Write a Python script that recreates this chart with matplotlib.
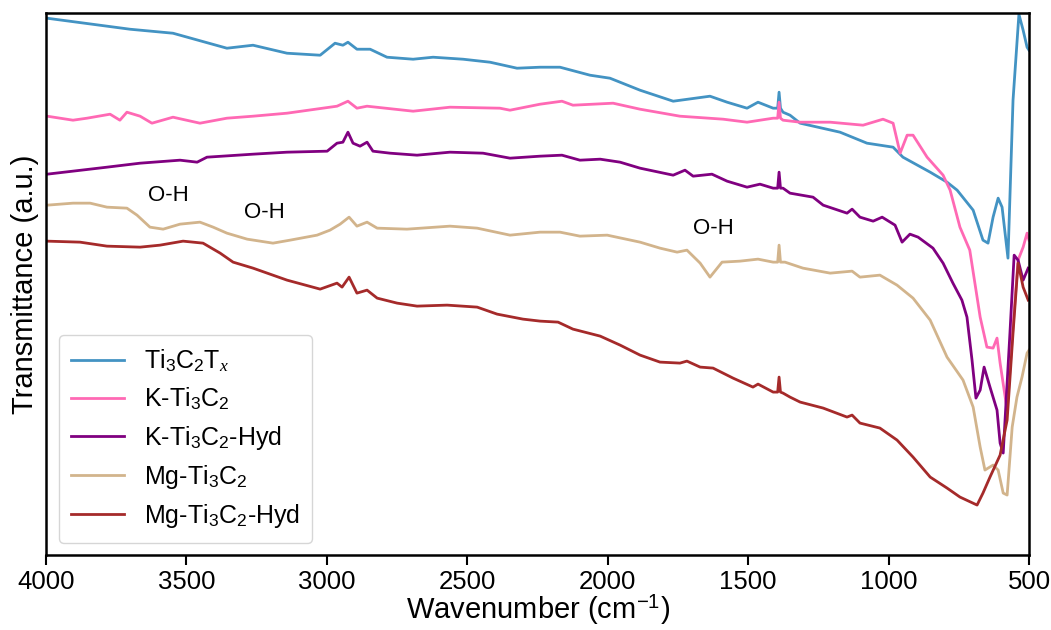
import matplotlib
matplotlib.use("Agg")
import matplotlib.pyplot as plt

plt.rcParams['font.family'] = ['Liberation Sans', 'DejaVu Sans']
plt.rcParams['mathtext.fontset'] = 'custom'
plt.rcParams['mathtext.rm'] = 'Liberation Sans'
plt.rcParams['mathtext.it'] = 'Liberation Serif:italic'

# spectra (wavenumber in cm-1, transmittance in a.u.)
wn_ti3c2tx = [3996, 3701, 3548, 3356, 3263, 3142, 3024, 2971, 2943, 2925, 2893, 2846, 2786,
              2693, 2622, 2515, 2419, 2323, 2241, 2170, 2063, 1992, 1885, 1767, 1636, 1575,
              1504, 1465, 1411, 1395, 1390, 1385, 1376, 1351, 1315, 1173, 1077, 984, 949,
              852, 792, 756, 699, 664, 646, 628, 610, 596, 575, 557, 536, 521, 507, 500]
t_ti3c2tx = [537, 526, 522, 507, 510, 502, 500, 512, 510, 513, 506, 506, 498,
             496, 498, 496, 493, 487, 488, 488, 480, 477, 465, 454, 459, 453,
             447, 453, 447, 447, 463, 447, 443, 440, 432, 423, 412, 408, 398,
             383, 373, 365, 345, 315, 312, 338, 357, 348, 297, 455, 541, 525, 508, 505]

wn_k = [3996, 3904, 3854, 3772, 3737, 3712, 3665, 3623, 3548, 3452, 3356, 3263, 3142,
        2964, 2925, 2893, 2857, 2693, 2562, 2384, 2348, 2241, 2163, 2124, 1981, 1885,
        1743, 1589, 1504, 1411, 1395, 1390, 1385, 1376, 1315, 1208, 1091, 1020, 984,
        959, 934, 913, 863, 806, 781, 746, 711, 674, 650, 628, 614, 603, 578, 557,
        539, 521, 507, 500]
t_k = [439, 435, 437, 441, 435, 443, 439, 432, 438, 432, 437, 439, 442,
       449, 454, 447, 449, 444, 448, 447, 445, 451, 454, 450, 452, 446,
       439, 436, 433, 437, 437, 453, 437, 435, 433, 433, 430, 436, 432,
       402, 420, 420, 398, 380, 365, 328, 305, 238, 208, 207, 217, 192, 145, 228,
       295, 308, 322, 315]

wn_k_hyd = [3996, 3783, 3665, 3523, 3462, 3427, 3263, 3142, 2999, 2964, 2943, 2925, 2907,
            2882, 2857, 2836, 2775, 2679, 2562, 2444, 2348, 2241, 2163, 2099, 2027, 1956,
            1885, 1767, 1725, 1696, 1629, 1575, 1504, 1458, 1411, 1395, 1390, 1385, 1376,
            1351, 1269, 1233, 1148, 1130, 1102, 1055, 1023, 977, 952, 924, 895, 842, 806,
            771, 739, 721, 703, 689, 674, 660, 639, 614, 603, 592, 568, 553, 539, 521, 503]
t_k_hyd = [381, 388, 392, 395, 393, 398, 401, 403, 404, 412, 413, 423, 412,
           409, 413, 404, 402, 400, 403, 402, 397, 399, 400, 395, 396, 393,
           387, 380, 385, 379, 381, 374, 368, 371, 367, 367, 383, 367, 367,
           362, 358, 350, 342, 346, 338, 334, 338, 330, 313, 321, 318, 307, 292,
           272, 255, 238, 195, 157, 165, 188, 168, 145, 112, 102, 222, 300, 295, 275, 287]

wn_mg = [3996, 3904, 3843, 3783, 3712, 3676, 3630, 3583, 3523, 3452, 3405, 3356, 3284,
         3192, 3131, 3035, 2989, 2953, 2921, 2893, 2857, 2821, 2715, 2562, 2465, 2348,
         2241, 2170, 2099, 2002, 1885, 1814, 1753, 1718, 1671, 1636, 1593, 1529, 1465,
         1411, 1395, 1390, 1385, 1369, 1305, 1208, 1130, 1102, 1031, 970, 913, 852, 792,
         735, 699, 674, 657, 628, 610, 592, 578, 560, 543, 525, 507, 500]
t_mg = [350, 352, 352, 348, 347, 340, 328, 326, 331, 333, 328, 322, 316,
        312, 315, 320, 325, 331, 338, 329, 333, 327, 326, 329, 327, 320,
        323, 323, 319, 320, 313, 307, 303, 305, 292, 278, 293, 294, 296,
        293, 293, 310, 293, 293, 287, 282, 284, 278, 280, 270, 257, 235, 198,
        175, 148, 108, 85, 90, 85, 62, 60, 128, 158, 178, 202, 205]

wn_mg_hyd = [3996, 3879, 3783, 3665, 3594, 3512, 3441, 3380, 3334, 3263, 3142, 3024, 2964,
             2946, 2921, 2893, 2857, 2821, 2750, 2679, 2572, 2465, 2394, 2302, 2241, 2177,
             2124, 2027, 1956, 1885, 1814, 1743, 1718, 1671, 1625, 1554, 1483, 1465, 1411,
             1395, 1390, 1385, 1376, 1351, 1315, 1233, 1148, 1130, 1102, 1031, 970, 913,
             852, 792, 746, 685, 664, 639, 603, 578, 557, 539, 521, 503]
t_mg_hyd = [314, 313, 309, 308, 310, 314, 312, 302, 293, 287, 275, 266, 272,
            268, 278, 262, 265, 257, 252, 249, 250, 248, 241, 236, 234, 233,
            226, 219, 210, 200, 193, 192, 194, 188, 187, 177, 168, 171, 163,
            163, 178, 163, 162, 158, 153, 147, 138, 140, 132, 127, 115, 98,
            78, 67, 58, 50, 62, 78, 100, 135, 222, 292, 268, 255]

labels = [r'Ti$_3$C$_2$T$_x$', r'K-Ti$_3$C$_2$', r'K-Ti$_3$C$_2$-Hyd',
          r'Mg-Ti$_3$C$_2$', r'Mg-Ti$_3$C$_2$-Hyd']
colors = ['#4393c3', '#ff69b4', '#800080', '#d2b48c', '#a52a2a']

# O-H band labels
oh_wn = [3566, 3224, 1625]
oh_t = [360, 343, 327]

fig = plt.figure(figsize=(10.51, 6.3), dpi=100)
ax = fig.add_axes([0.0438, 0.119, 0.9353, 0.860])

series = [(wn_ti3c2tx, t_ti3c2tx), (wn_k, t_k), (wn_k_hyd, t_k_hyd),
          (wn_mg, t_mg), (wn_mg_hyd, t_mg_hyd)]
for (x, y), lab, c in zip(series, labels, colors):
    ax.plot(x, y, color=c, lw=2, label=lab)

for x, y in zip(oh_wn, oh_t):
    ax.text(x, y, 'O-H', fontsize=16, ha='center', va='center')

ax.set_xlim(4000, 500)
ax.set_ylim(0, 542)
ax.set_yticks([])
ax.set_xticks([4000, 3500, 3000, 2500, 2000, 1500, 1000, 500])
ax.tick_params(axis='x', labelsize=18.5, width=1.5, length=7)
for s in ax.spines.values():
    s.set_linewidth(1.8)
ax.set_xlabel('Wavenumber (cm$^{-1}$)', fontsize=21, labelpad=0)
ax.set_ylabel('Transmittance (a.u.)', fontsize=21, labelpad=5)
ax.legend(loc='lower left', fontsize=18, handlelength=2.1, borderpad=0.5,
          labelspacing=0.45)

fig.savefig('out.png', dpi=100)
